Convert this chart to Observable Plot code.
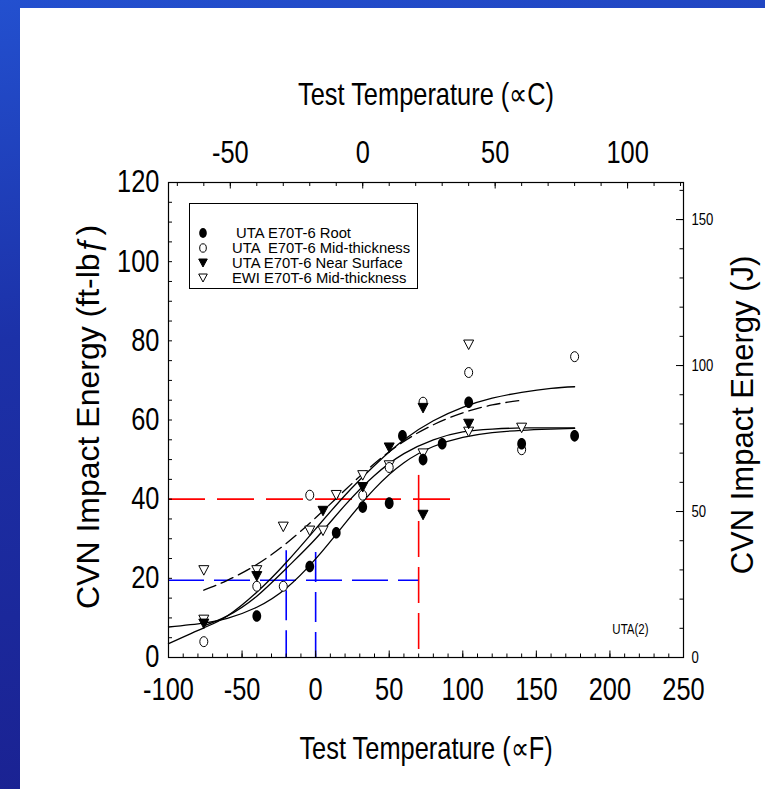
<!DOCTYPE html>
<html><head><meta charset="utf-8">
<script src="https://cdn.jsdelivr.net/npm/d3@7"></script>
<script src="https://cdn.jsdelivr.net/npm/@observablehq/plot@0.6"></script>
<style>
html,body{margin:0;padding:0;width:765px;height:789px;overflow:hidden;}
body{position:relative;background:linear-gradient(172deg,#2350cf 0%,#1c31a8 38%,#1a1f8e 100%);}
#panel{position:absolute;left:20px;top:8px;right:0;bottom:0;background:#fff;}
#chart{position:absolute;left:0;top:0;}
#legend{position:absolute;left:189px;top:203px;width:229px;height:86px;border:1px solid #000;box-sizing:border-box;background:#fff;
  font-family:"Liberation Sans",Arial,sans-serif;font-size:14.8px;color:#000;}
#legend .row{position:absolute;left:0;height:14px;white-space:pre;}
#legend svg{position:absolute;left:7px;top:1px;}
#legend span{position:absolute;left:42px;top:0;line-height:14px;}
</style></head>
<body><div id="panel"></div><div id="chart"></div><div id="legend"></div>
<script>
// ---- data ----
const rootT = [-40, -4, 14, 32, 50, 59, 73, 86, 104, 140, 176];
const rootE = [10.5, 23, 31.5, 38, 39, 56, 50, 54, 64.5, 54, 56];
const midT  = [-76, -40, -22, -4, 32, 50, 73, 104, 140, 176];
const midE  = [4, 18, 18, 41, 41, 48, 64.5, 72, 52.5, 76];
const nsT   = [-76, -40, 5, 32, 50, 73, 73, 104];
const nsE   = [8.5, 20.5, 37, 43, 53, 63, 36, 59];
const ewiT  = [-76, -76, -40, -22, -4, 5, 14, 32, 50, 73, 104, 104, 140];
const ewiE  = [22, 9.5, 22, 33, 32, 32, 41, 46, 48.5, 51.5, 79, 57, 58];

// fitted curves
const fitT    = [-100, -76, -60, -40, -20, 0, 20, 40, 60, 80, 100, 120, 140, 160, 176];
const rootFit = [7.7, 8.7, 9.9, 12.7, 17.5, 24.9, 33.9, 42.6, 49.2, 53.3, 55.6, 56.8, 57.4, 57.7, 57.9];
const midFit  = [3.5, 7.5, 10.5, 16.5, 24, 32.5, 41, 48.5, 55, 59.8, 63.2, 65.5, 67, 68, 68.4];
const nsFitT  = [-76, -60, -40, -20, 0, 20, 40, 60, 80, 100, 120, 140, 160, 176];
const nsFit   = [8, 10.5, 15.5, 22.5, 30, 38.5, 46, 51.5, 55, 57, 57.7, 58, 58, 58];
const ewiFitT = [-76, -60, -40, -20, 0, 20, 40, 60, 80, 100, 120, 140];
const ewiFit  = [17, 19.5, 23.5, 28.8, 35.3, 42.3, 49, 54.6, 58.8, 61.8, 63.8, 65];

// guide lines
const redLevel = 40, redTemp = 70, redTop = 46, redEnd = 95;
const blueLevel = 19.5, blueTemps = [-20, 0], blueTops = [27, 26.5];

// tick labels
const yTickLabels = [0, 20, 40, 60, 80, 100, 120];
const xTickLabels = [-100, -50, 0, 50, 100, 150, 200, 250];
const cTickLabels = [-50, 0, 50, 100];
const jTickLabels = [0, 50, 100, 150];

const legendLabels = [" UTA E70T-6 Root", "UTA  E70T-6 Mid-thickness", "UTA E70T-6 Near Surface", "EWI E70T-6 Mid-thickness"];

// ---- helpers ----
const FofC = c => c * 9 / 5 + 32;
const ftlbOfJ = j => j / 1.355818;
const rows = (T, E) => T.map((t, i) => ({t, e: E[i]}));
const font = '"Liberation Sans", Arial, sans-serif';
const NARROW = 0.82;

function ellipse(rx, ry) {
  const k = 0.5523;
  return {draw(c) {
    c.moveTo(rx, 0);
    c.bezierCurveTo(rx, ry * k, rx * k, ry, 0, ry);
    c.bezierCurveTo(-rx * k, ry, -rx, ry * k, -rx, 0);
    c.bezierCurveTo(-rx, -ry * k, -rx * k, -ry, 0, -ry);
    c.bezierCurveTo(rx * k, -ry, rx, -ry * k, rx, 0);
    c.closePath();
  }};
}
function triDown(w, h) {
  return {draw(c) {
    c.moveTo(-w / 2, -h / 2);
    c.lineTo(w / 2, -h / 2);
    c.lineTo(0, h / 2);
    c.closePath();
  }};
}
const symFilledCircle = ellipse(4.4, 5.8);
const symOpenCircle = ellipse(4.0, 5.0);
const symTri = triDown(10, 9.5);

const W = 765, H = 789, mL = 168, mR = 82, mT = 182, mB = 132;
const fw = W - mL - mR, fh = H - mT - mB;
const lineOpts = {x: "t", y: "e", curve: "natural", stroke: "black", strokeWidth: 1.3};
const txt = {fill: "black", lineAnchor: "middle"};

const chart = Plot.plot({
  width: W, height: H,
  marginLeft: mL, marginRight: mR, marginTop: mT, marginBottom: mB,
  x: {domain: [-100, 250], axis: null},
  y: {domain: [0, 120], axis: null},
  style: {fontFamily: font, background: "transparent", color: "black", overflow: "visible"},
  marks: [
    // guide lines
    Plot.ruleY([redLevel], {y: d => d, x1: -100, x2: redEnd, stroke: "#ff0000", strokeWidth: 1.6, strokeDasharray: "37,12"}),
    Plot.ruleX([redTemp], {x: d => d, y1: redTop, y2: 0, stroke: "#ff0000", strokeWidth: 1.6, strokeDasharray: "36,10"}),
    Plot.ruleY([blueLevel], {y: d => d, x1: -100, x2: redTemp, stroke: "#0000ff", strokeWidth: 1.6, strokeDasharray: "36,10"}),
    Plot.ruleX(blueTemps.map((t, i) => ({t, top: blueTops[i]})), {x: "t", y1: "top", y2: 0, stroke: "#0000ff", strokeWidth: 1.6, strokeDasharray: "30,10"}),
    // fitted curves
    Plot.line(rows(fitT, rootFit), lineOpts),
    Plot.line(rows(fitT, midFit), lineOpts),
    Plot.line(rows(nsFitT, nsFit), lineOpts),
    Plot.line(rows(ewiFitT, ewiFit), {...lineOpts, strokeDasharray: "13,6"}),
    // data
    Plot.dot(rows(ewiT, ewiE), {x: "t", y: "e", symbol: symTri, fill: "white", stroke: "black", strokeWidth: 1}),
    Plot.dot(rows(midT, midE), {x: "t", y: "e", symbol: symOpenCircle, fill: "white", stroke: "black", strokeWidth: 1}),
    Plot.dot(rows(nsT, nsE), {x: "t", y: "e", symbol: symTri, fill: "black", stroke: "black", strokeWidth: 1}),
    Plot.dot(rows(rootT, rootE), {x: "t", y: "e", symbol: symFilledCircle, fill: "black", stroke: "none"}),
    // frame
    Plot.frame({stroke: "black", strokeWidth: 1.2}),
    // ticks: bottom (°F)
    Plot.ruleX(d3.range(-100, 251, 10), {x: d => d, insetTop: fh - 3.5, stroke: "black"}),
    Plot.ruleX(xTickLabels, {x: d => d, insetTop: fh - 6.5, stroke: "black"}),
    // ticks: top (°C)
    Plot.ruleX(d3.range(-70, 121, 10).map(FofC), {x: d => d, insetBottom: fh - 4, stroke: "black"}),
    Plot.ruleX(cTickLabels.map(FofC), {x: d => d, insetBottom: fh - 6.5, stroke: "black"}),
    // ticks: left
    Plot.ruleY(d3.range(0, 121, 5), {y: d => d, insetRight: fw - 4, stroke: "black"}),
    // ticks: right (J)
    Plot.ruleY(d3.range(0, 161, 10).map(ftlbOfJ), {y: d => d, insetLeft: fw - 3.5, stroke: "black"}),
    Plot.ruleY(jTickLabels.map(ftlbOfJ), {y: d => d, insetLeft: fw - 7, stroke: "black"}),
    // tick labels
    Plot.text(yTickLabels, {...txt, y: d => d, text: d => String(d), frameAnchor: "left", dx: -9, textAnchor: "end", fontSize: 31}),
    Plot.text(xTickLabels, {...txt, x: d => d, text: d => String(d), frameAnchor: "bottom", dy: 33, textAnchor: "middle", fontSize: 31}),
    Plot.text(cTickLabels, {...txt, x: d => FofC(d), text: d => String(d), frameAnchor: "top", dy: -29, textAnchor: "middle", fontSize: 31}),
    Plot.text(jTickLabels, {...txt, y: d => ftlbOfJ(d), text: d => String(d), frameAnchor: "right", dx: 8, textAnchor: "start", fontSize: 16}),
    // axis titles
    Plot.text(["Test Temperature (\u221DC)"], {...txt, text: d => d, frameAnchor: "top", dy: -87, textAnchor: "middle", fontSize: 31}),
    Plot.text(["Test Temperature (\u221DF)"], {...txt, text: d => d, frameAnchor: "bottom", dy: 92, textAnchor: "middle", fontSize: 31}),
    Plot.text(["CVN Impact Energy (ft-lb\u0192)"], {...txt, text: d => d, frameAnchor: "left", dx: -80, dy: -3, rotate: -90, textAnchor: "middle", fontSize: 32}),
    Plot.text(["CVN Impact Energy (J)"], {...txt, text: d => d, frameAnchor: "right", dx: 60, dy: -5, rotate: -90, textAnchor: "middle", fontSize: 31}),
    Plot.text(["UTA(2)"], {...txt, text: d => d, frameAnchor: "bottom-right", dx: -35, dy: -28, textAnchor: "end", fontSize: 14})
  ]
});
document.getElementById("chart").appendChild(chart);

// narrow (condensed) look for every horizontal text of the chart
const svgRoot = chart.tagName.toLowerCase() === "svg" ? chart : chart.querySelector("svg");
svgRoot.querySelectorAll("text").forEach(t => {
  const tr = t.getAttribute("transform") || "";
  if (tr.includes("rotate")) return;
  if (tr) {
    t.setAttribute("transform", `${tr} scale(${NARROW},1)`);
  } else {
    const xa = t.getAttribute("x");
    const x = xa !== null && !isNaN(+xa) ? +xa : 0;
    if (xa !== null && !isNaN(+xa)) t.removeAttribute("x");
    t.setAttribute("transform", `translate(${x},0) scale(${NARROW},1)`);
  }
});

// legend
const legendSyms = [
  '<ellipse cx="6" cy="6" rx="3.8" ry="5" fill="black"/>',
  '<ellipse cx="6" cy="6" rx="3.3" ry="4.2" fill="white" stroke="black"/>',
  '<path d="M1.7,2 L10.3,2 L6,10 Z" fill="black" stroke="black"/>',
  '<path d="M1.7,2 L10.3,2 L6,10 Z" fill="white" stroke="black"/>'
];
const legendTops = [22, 37, 52, 67];
const lg = document.getElementById("legend");
legendLabels.forEach((lab, i) => {
  const r = document.createElement("div");
  r.className = "row";
  r.style.top = legendTops[i] + "px";
  r.innerHTML = `<svg width="12" height="12" viewBox="0 0 12 12">${legendSyms[i]}</svg>`;
  const s = document.createElement("span");
  s.textContent = lab;
  r.appendChild(s);
  lg.appendChild(r);
});
</script>
</body></html>
